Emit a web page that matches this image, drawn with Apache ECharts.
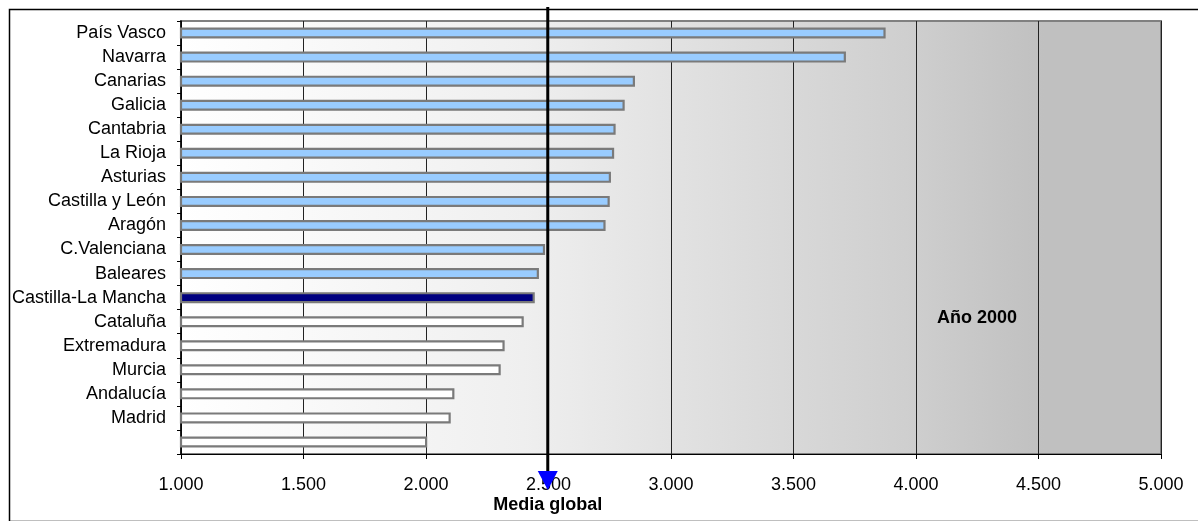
<!DOCTYPE html>
<html>
<head>
<meta charset="utf-8">
<script src="https://cdn.jsdelivr.net/npm/echarts@6/dist/echarts.min.js"></script>
<style>
html,body{margin:0;padding:0;background:#fff;}
#chart{width:1198px;height:521px;}
</style>
</head>
<body>
<div id="chart"></div>
<script>
const categories = ['País Vasco','Navarra','Canarias','Galicia','Cantabria','La Rioja','Asturias','Castilla y León','Aragón','C.Valenciana','Baleares','Castilla-La Mancha','Cataluña','Extremadura','Murcia','Andalucía','Madrid',''];
const values = [3876,3714,2853,2811,2774,2768,2755,2750,2733,2486,2461,2444,2399,2321,2305,2116,2101,2005];
const barColors = ['#99ccff','#99ccff','#99ccff','#99ccff','#99ccff','#99ccff','#99ccff','#99ccff','#99ccff','#99ccff','#99ccff','#000080','#ffffff','#ffffff','#ffffff','#ffffff','#ffffff','#ffffff'];
const mediaGlobal = [2497];
const xTicks = {min:1000, max:5000, interval:500};

const chart = echarts.init(document.getElementById('chart'), null, {renderer:'canvas'});
const fmt = v => { const s = String(Math.round(v)); return s.length > 3 ? s.slice(0, s.length-3) + '.' + s.slice(-3) : s; };
const font = 'Liberation Sans, Arial, sans-serif';

chart.setOption({
  animation:false,
  backgroundColor:'#ffffff',
  graphic:[
    {type:'rect', left:7, top:7, shape:{width:1250, height:512}, style:{fill:'none', stroke:'#000', lineWidth:1.5}, z:-10},
    {type:'text', left:937, top:309, style:{text:'Año 2000', font:'bold 18px ' + font, fill:'#000'}, z:100}
  ],
  grid:{
    left:181, right:37, top:21, bottom:67,
    show:true,
    borderColor:'#808080', borderWidth:2,
    backgroundColor:new echarts.graphic.LinearGradient(0,0,1,0,[
      {offset:0, color:'#ffffff'},
      {offset:0.35, color:'#efefef'},
      {offset:0.5, color:'#e2e2e2'},
      {offset:0.75, color:'#cecece'},
      {offset:0.88, color:'#c0c0c0'},
      {offset:1, color:'#c0c0c0'}
    ])
  },
  xAxis:{
    type:'value', min:xTicks.min, max:xTicks.max, interval:xTicks.interval,
    axisLine:{show:true, lineStyle:{color:'#000', width:1}},
    axisTick:{show:true, length:5, lineStyle:{color:'#000'}},
    axisLabel:{formatter:fmt, color:'#000', fontSize:18, fontFamily:font, margin:22},
    splitLine:{show:true, lineStyle:{color:'#222', width:1}}
  },
  yAxis:{
    type:'category', data:categories, inverse:true,
    axisLine:{show:true, lineStyle:{color:'#000', width:1.5}},
    axisTick:{show:true, length:4, lineStyle:{color:'#000'}},
    axisLabel:{color:'#000', fontSize:18, fontFamily:font, margin:15, padding:[3,0,0,0]},
    splitLine:{show:false}
  },
  series:[
    {
      type:'bar',
      barWidth:11,
      data:values.map((v,i)=>({value:v, itemStyle:{color:barColors[i]}})),
      itemStyle:{borderColor:'#7a7a7a', borderWidth:2.2},
      z:3
    },
    {
      type:'custom',
      clip:false,
      z:10,
      data:mediaGlobal.map(v=>[v]),
      encode:{x:0},
      renderItem:function(params, api){
        const x = api.coord([api.value(0), categories[0]])[0];
        return {type:'group', children:[
          {type:'line', shape:{x1:x, y1:7, x2:x, y2:474}, style:{stroke:'#000', lineWidth:3}},
          {type:'polygon', shape:{points:[[x-10,471],[x+10,471],[x,490]]}, style:{fill:'#0000ff'}},
          {type:'text', style:{x:x, y:505, text:'Media global', align:'center', verticalAlign:'middle', font:'bold 18px ' + font, fill:'#000'}}
        ]};
      }
    }
  ]
});
</script>
</body>
</html>
